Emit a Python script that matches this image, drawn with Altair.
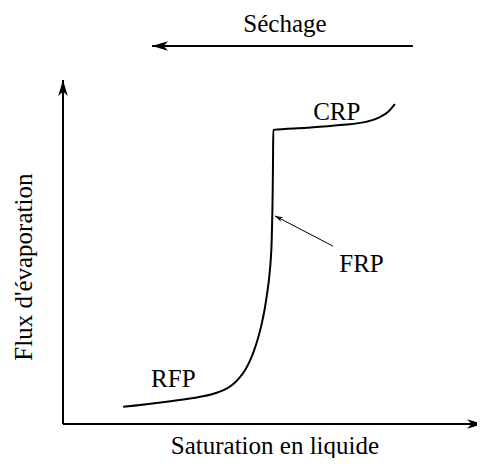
import altair as alt
import pandas as pd

# Curve (x: liquid saturation, y: evaporation flux), arbitrary 0-100 units
curve_x = [14.4, 24.8, 32.8, 36.8, 38.28, 39.95, 41.15, 42.34, 43.54, 44.74, 45.69, 46.65, 47.49,
           48.21, 48.8, 49.35, 49.69, 49.93, 50.07, 50.17, 50.24, 50.31, 58.3, 66.3, 72.7, 75.8, 77.8, 79.4]
curve_y = [5.0, 6.5, 7.9, 9.1, 9.8, 10.91, 12.08, 13.6, 15.64, 18.4, 21.31, 24.91, 28.88,
           33.15, 37.65, 42.88, 47.67, 53.5, 60.8, 68.0, 76.7, 85.5, 86.1, 86.9, 87.9, 89.2, 90.8, 93.0]

# Axis arrows and the "Séchage" arrow (start -> tip)
arrow_x = [0, 0, 83.7]
arrow_y = [0, 0, 109.9]
arrow_x2 = [100.5, 0, 21.3]
arrow_y2 = [0, 100, 109.9]
arrow_dir = [90, 0, 270]

# Thin pointer arrow towards the FRP part of the curve
pointer_x = [64.6]
pointer_y = [51.7]
pointer_x2 = [50.7]
pointer_y2 = [60.5]

# Labels
label_text = ["CRP", "FRP", "RFP", "Séchage", "Saturation en liquide"]
label_x = [65.5, 71.4, 26.4, 53.1, 50.7]
label_y = [88.4, 44.3, 10.9, 114.0, -8.8]
ytitle_text = ["Flux d'évaporation"]
ytitle_x = [-7.5]
ytitle_y = [45.6]

curve_df = pd.DataFrame({"x": curve_x, "y": curve_y})
arrow_df = pd.DataFrame({"x": arrow_x, "y": arrow_y, "x2": arrow_x2, "y2": arrow_y2, "dir": arrow_dir})
pointer_df = pd.DataFrame({"x": pointer_x, "y": pointer_y, "x2": pointer_x2, "y2": pointer_y2})
label_df = pd.DataFrame({"t": label_text, "x": label_x, "y": label_y})
ytitle_df = pd.DataFrame({"t": ytitle_text, "x": ytitle_x, "y": ytitle_y})

xs = alt.Scale(domain=[0, 99.04], nice=False, zero=False)
ys = alt.Scale(domain=[0, 100], nice=False, zero=False)
X = lambda f: alt.X(f, type="quantitative", scale=xs, axis=None)
Y = lambda f: alt.Y(f, type="quantitative", scale=ys, axis=None)

FONT = "Liberation Serif"
HEAD = "M0,0 L0.6,2 L0,1.45 L-0.6,2 Z"

curve = alt.Chart(curve_df).mark_line(
    color="black", strokeWidth=2, interpolate="monotone", clip=False
).encode(x=X("x"), y=Y("y"))

arrows = alt.Chart(arrow_df).mark_rule(color="black", strokeWidth=2, clip=False).encode(
    x=X("x"), y=Y("y"), x2="x2", y2="y2"
)
heads = alt.Chart(arrow_df).mark_point(
    shape=HEAD, size=256, filled=True, color="black", opacity=1, strokeWidth=0, clip=False
).encode(x=X("x2"), y=Y("y2"), angle=alt.Angle("dir:Q", scale=None))

pointer = alt.Chart(pointer_df).mark_rule(color="black", strokeWidth=1, clip=False).encode(
    x=X("x"), y=Y("y"), x2="x2", y2="y2"
)
pointer_head = alt.Chart(pointer_df).mark_point(
    shape=HEAD, size=64, filled=True, color="black", opacity=1, strokeWidth=0, angle=297, clip=False
).encode(x=X("x2"), y=Y("y2"))

labels = alt.Chart(label_df).mark_text(
    font=FONT, fontSize=25, color="black", align="center", baseline="alphabetic", clip=False
).encode(x=X("x"), y=Y("y"), text="t:N")

ytitle = alt.Chart(ytitle_df).mark_text(
    font=FONT, fontSize=25, color="black", align="center", baseline="alphabetic", angle=270, clip=False
).encode(x=X("x"), y=Y("y"), text="t:N")

chart = alt.layer(curve, arrows, heads, pointer, pointer_head, labels, ytitle).properties(
    width=414,
    height=344,
    padding={"left": 55, "top": 72, "right": 0, "bottom": 34},
    autosize=alt.AutoSizeParams(type="none"),
    background="white",
).configure_view(stroke=None)

chart.save("out.html", embed_options={"renderer": "svg", "actions": False})
